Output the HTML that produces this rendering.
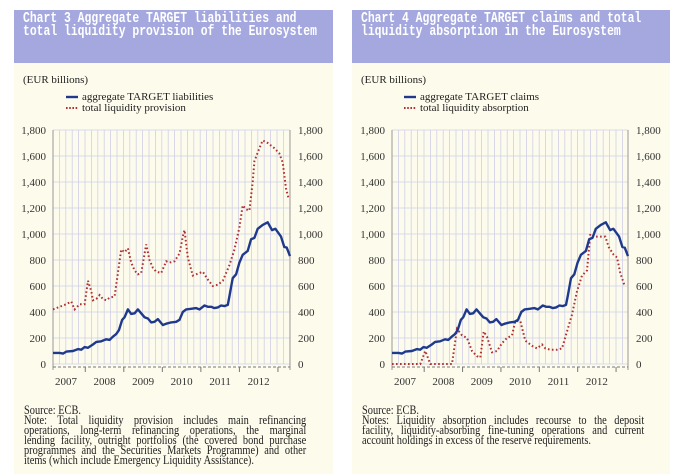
<!DOCTYPE html>
<html><head><meta charset="utf-8">
<style>
body{margin:0;width:689px;height:474px;background:#fff;overflow:hidden;position:relative;font-family:"Liberation Serif",serif;}
.panel{position:absolute;top:10px;height:464px;background:#fdfbec;}
.hdr{position:absolute;left:0;top:0;right:0;height:53px;background:#a4a8de;}
.hdr div{position:absolute;left:9px;top:4px;color:#fff;font-family:"Liberation Mono",monospace;font-weight:bold;font-size:11.4px;line-height:9.6px;transform:scaleY(1.32);transform-origin:0 0;white-space:nowrap;}
.t{position:absolute;font-size:11px;color:#222;white-space:nowrap;}
.note{position:absolute;font-size:12.2px;line-height:10px;color:#222;transform:scaleX(0.85);transform-origin:0 0;width:332px;}
.note div{text-align:justify;text-align-last:justify;white-space:nowrap;}
.note div.l{text-align-last:left;}
svg{position:absolute;left:0;top:0;}
</style></head><body>
<div class="panel" style="left:14px;width:319px">
 <div class="hdr"><div>Chart 3 Aggregate TARGET liabilities and<br>total liquidity provision of the Eurosystem</div></div>
 <div class="t" style="left:9px;top:64px">(EUR billions)</div>
 <div class="t" style="left:68px;top:81px">aggregate TARGET liabilities</div>
 <div class="t" style="left:68px;top:92px">total liquidity provision</div>
 <div class="note" style="left:10px;top:395px"><div class="l">Source: ECB.</div><div>Note: Total liquidity provision includes main refinancing</div><div>operations, long-term refinancing operations, the marginal</div><div>lending facility, outright portfolios (the covered bond purchase</div><div>programmes and the Securities Markets Programme) and other</div><div class="l">items (which include Emergency Liquidity Assistance).</div></div>
</div>
<div class="panel" style="left:352px;width:318px">
 <div class="hdr"><div>Chart 4 Aggregate TARGET claims and total<br>liquidity absorption in the Eurosystem</div></div>
 <div class="t" style="left:9px;top:64px">(EUR billions)</div>
 <div class="t" style="left:68px;top:81px">aggregate TARGET claims</div>
 <div class="t" style="left:68px;top:92px">total liquidity absorption</div>
 <div class="note" style="left:10px;top:395px"><div class="l">Source: ECB.</div><div>Notes: Liquidity absorption includes recourse to the deposit</div><div>facility, liquidity-absorbing fine-tuning operations and current</div><div class="l">account holdings in excess of the reserve requirements.</div></div>
</div>
<svg id="s" width="689" height="474"></svg>
<script>
var blue=[[160,85],[180,85],[190,80],[200,95],[220,100],[235,115],[245,110],[255,130],[265,125],[280,150],[290,170],[305,175],[320,190],[330,185],[340,210],[350,230],[358,260],[368,340],[375,360],[385,420],[395,385],[405,390],[415,420],[425,390],[435,360],[445,350],[455,320],[465,325],[475,345],[490,300],[500,310],[515,320],[530,325],[540,340],[550,400],[560,420],[575,425],[590,430],[600,420],[615,450],[625,440],[635,440],[645,430],[655,435],[665,450],[675,445],[685,455],[690,520],[700,660],[710,690],[720,780],[730,840],[745,870],[755,960],[765,970],[775,1040],[790,1070],[805,1090],[818,1030],[828,1040],[845,980],[855,900],[862,895],[872,830]];
var redL=[[160,420],[180,440],[200,460],[215,480],[225,420],[240,460],[255,460],[265,640],[275,560],[280,490],[290,500],[300,530],[310,500],[320,490],[330,510],[345,520],[355,700],[365,880],[375,860],[385,890],[395,780],[405,720],[415,690],[425,700],[440,920],[450,800],[460,740],[470,710],[485,700],[500,790],[510,780],[525,790],[540,850],[550,980],[555,1030],[565,820],[580,680],[600,700],[610,710],[625,650],[640,600],[655,610],[670,640],[690,760],[705,880],[720,1050],[730,1220],[740,1190],[750,1180],[760,1400],[765,1560],[780,1660],[790,1720],[805,1700],[825,1660],[840,1620],[850,1550],[860,1350],[868,1270]];
var redR=[[140,0],[225,0],[240,100],[255,0],[320,0],[335,270],[350,220],[365,200],[380,100],[395,60],[405,50],[415,250],[425,210],[440,90],[455,100],[470,160],[485,200],[500,220],[510,330],[525,330],[540,180],[560,140],[575,120],[590,150],[600,120],[615,110],[635,110],[650,120],[665,250],[680,380],[695,560],[710,680],[725,720],[735,1000],[750,980],[765,980],[780,980],[790,900],[805,840],[815,820],[825,700],[838,600]];
var s='';
function chart(x0,x1,ylab,yrab,blueF,redF){
 var yt=130,yb=364;
 for(var x=x0+6.4;x<x1;x+=6.4) s+='<line x1="'+x+'" y1="'+yt+'" x2="'+x+'" y2="'+yb+'" stroke="#cfd0ea" stroke-width="0.8"/>';
 for(var v=0;v<=1800;v+=200){var y=yb-v/1800*234;
  s+='<line x1="'+x0+'" y1="'+y+'" x2="'+x1+'" y2="'+y+'" stroke="#cfd0ea" stroke-width="0.8"/>';
  var l=v>=1000?(Math.floor(v/1000)+','+String(v%1000).padStart(3,'0')):v;
  s+='<text x="'+ylab+'" y="'+(y+4)+'" text-anchor="end" font-size="11" fill="#333" font-family="Liberation Serif">'+l+'</text>';
  s+='<text x="'+yrab+'" y="'+(y+4)+'" font-size="11" fill="#333" font-family="Liberation Serif">'+l+'</text>';}
 s+='<line x1="'+x0+'" y1="'+yt+'" x2="'+x0+'" y2="'+(yb+6)+'" stroke="#999"/><line x1="'+x1+'" y1="'+yt+'" x2="'+x1+'" y2="'+(yb+6)+'" stroke="#999"/>';
 s+='<line x1="'+x0+'" y1="'+(yb+3)+'" x2="'+x1+'" y2="'+(yb+3)+'" stroke="#777" stroke-dasharray="3,2"/>';
 var yw=(x1-x0)/6.15;
 for(var i=0;i<6;i++){var cx=x0+13+i*yw*1.0;
  s+='<line x1="'+(cx+yw/2)+'" y1="'+(yb+3)+'" x2="'+(cx+yw/2)+'" y2="'+(yb+8)+'" stroke="#777"/>';
  s+='<text x="'+cx+'" y="'+(yb+21)+'" text-anchor="middle" font-size="11" fill="#333" font-family="Liberation Serif">'+(2007+i)+'</text>';}
 function pts(d,zx0,zx1){return d.map(function(p){var x=x0+(p[0]-zx0)/(zx1-zx0)*(x1-x0);return x.toFixed(1)+','+(yb-p[1]/1800*234).toFixed(1);}).join(' ');}
 s+='<polyline points="'+pts(redF[0],redF[1],redF[2])+'" fill="none" stroke="#b03030" stroke-width="2" stroke-dasharray="1.6,2.4"/>';
 s+='<polyline points="'+pts(blue,160,872)+'" fill="none" stroke="#1f3a8c" stroke-width="2.4" stroke-linejoin="round"/>';
}
chart(53,290,46,298,blue,[redL,160,872]);
chart(392,628,385,636,blue,[redR,140,848]);
s+='<line x1="66" y1="97" x2="78" y2="97" stroke="#1f3a8c" stroke-width="2.4"/><line x1="66" y1="108" x2="78" y2="108" stroke="#b03030" stroke-width="2" stroke-dasharray="1.6,1.6"/>';
s+='<line x1="404" y1="97" x2="416" y2="97" stroke="#1f3a8c" stroke-width="2.4"/><line x1="404" y1="108" x2="416" y2="108" stroke="#b03030" stroke-width="2" stroke-dasharray="1.6,1.6"/>';
document.getElementById('s').innerHTML=s;
</script>
</body></html>
